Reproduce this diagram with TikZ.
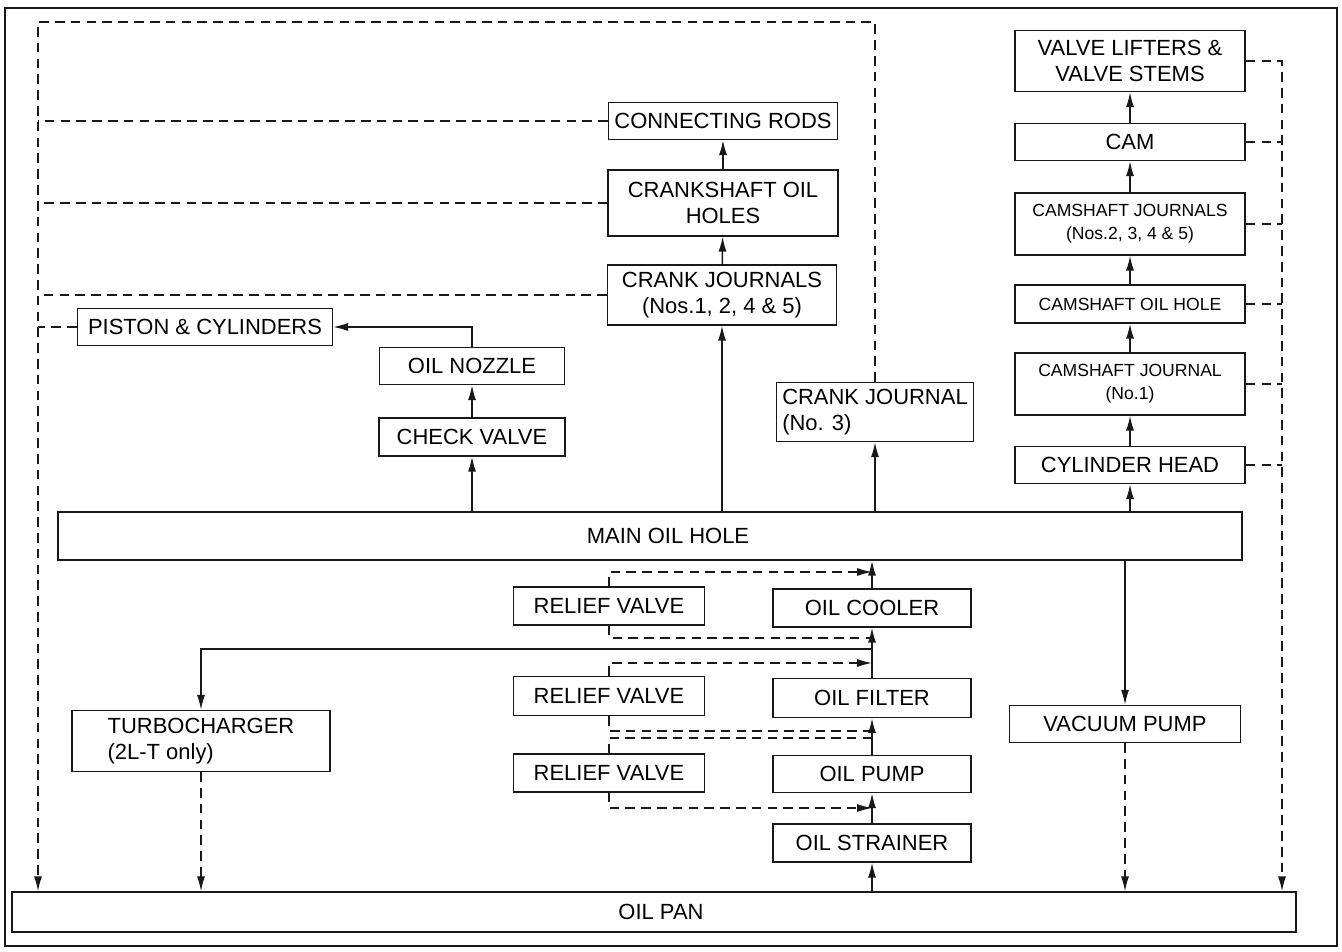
\documentclass[tikz,border=0pt]{standalone}
\usepackage{fontspec}
\setmainfont{Liberation Sans}
\usepackage{tikz}
\usetikzlibrary{arrows.meta}
\definecolor{ink}{RGB}{25,25,25}

\begin{document}
\begin{tikzpicture}[x=0.02cm, y=-0.02cm, part/.style={draw=ink, line width=0.8pt, inner sep=2pt, align=center, font=\fontsize{12.5}{15}\selectfont}, small/.style={font=\fontsize{10}{13}\selectfont}, arrow/.style={-{Latex[length=8.5pt,width=4.6pt]}, draw=ink, line width=0.85pt}, drain/.style={draw=ink, line width=0.8pt, dash pattern=on 5.5pt off 3.5pt}, drainarrow/.style={drain, -{Latex[length=8.5pt,width=4.6pt]}}]
\useasboundingbox (0,0) rectangle (1342,952);
\draw[ink, line width=1pt] (5,8) rectangle (1337,946);
% crankshaft side
\node[part, minimum width=4.58cm, minimum height=0.74cm] (rods) at (723,121) {CONNECTING RODS};
\node[part, minimum width=4.6cm, minimum height=1.32cm] (cshole) at (723,203) {CRANKSHAFT OIL\\HOLES};
\node[part, minimum width=4.58cm, minimum height=1.2cm] (cjs) at (722,295) {CRANK JOURNALS\\(Nos.1, 2, 4 \& 5)};
\node[part, minimum width=3.94cm, minimum height=1.18cm, align=left] (cj3) at (875,412) {CRANK JOURNAL\\(No. 3)};
\node[part, minimum width=5.1cm, minimum height=0.74cm] (piston) at (205,327) {PISTON \& CYLINDERS};
\node[part, minimum width=3.7cm, minimum height=0.74cm] (nozzle) at (472,366) {OIL NOZZLE};
\node[part, minimum width=3.72cm, minimum height=0.76cm] (check) at (472,437) {CHECK VALVE};
% camshaft side
\node[part, minimum width=4.6cm, minimum height=1.22cm, text depth=0pt] (lifters) at (1130,61) {VALVE LIFTERS \&\\VALVE STEMS};
\node[part, minimum width=4.6cm, minimum height=0.74cm] (cam) at (1130,142) {CAM};
\node[part, small, minimum width=4.6cm, minimum height=1.24cm] (camjs) at (1130,224) {CAMSHAFT JOURNALS\\(Nos.2, 3, 4 \& 5)};
\node[part, small, minimum width=4.6cm, minimum height=0.76cm] (camhole) at (1130,304) {CAMSHAFT OIL HOLE};
\node[part, small, minimum width=4.6cm, minimum height=1.24cm] (camj1) at (1130,384) {CAMSHAFT JOURNAL\\(No.1)};
\node[part, minimum width=4.6cm, minimum height=0.74cm] (head) at (1130,465) {CYLINDER HEAD};
\node[part, minimum width=23.68cm, minimum height=0.96cm] (mainhole) at (650,536) {\hspace*{0.72cm}MAIN OIL HOLE};
% pump and filter line
\node[part, minimum width=3.82cm, minimum height=0.76cm] (rv1) at (609,606) {RELIEF VALVE};
\node[part, minimum width=3.96cm, minimum height=0.76cm] (cooler) at (872,608) {OIL COOLER};
\node[part, minimum width=3.82cm, minimum height=0.78cm] (rv2) at (609,696) {RELIEF VALVE};
\node[part, minimum width=3.96cm, minimum height=0.78cm] (filter) at (872,698) {OIL FILTER};
\node[part, minimum width=3.82cm, minimum height=0.76cm] (rv3) at (609,773) {RELIEF VALVE};
\node[part, minimum width=3.96cm, minimum height=0.74cm] (pump) at (872,774) {OIL PUMP};
\node[part, minimum width=3.96cm, minimum height=0.76cm] (strainer) at (872,843) {OIL STRAINER};
\node[part, minimum width=5.16cm, minimum height=1.22cm, align=left] (turbo) at (201,741) {TURBOCHARGER\\(2L-T only)};
\node[part, minimum width=4.62cm, minimum height=0.74cm] (vacuum) at (1125,724) {VACUUM PUMP};
\node[part, minimum width=25.68cm, minimum height=0.8cm] (pan) at (654,912) {\hspace*{0.28cm}OIL PAN};
\coordinate (tl) at (38,22);
\coordinate (tr) at (1282,61);
\coordinate (j1) at (872,572);
\coordinate (j2) at (872,638);
\coordinate (j3) at (872,649);
\coordinate (j4) at (872,663);
\coordinate (j5) at (872,731);
\coordinate (j6) at (872,738);
\coordinate (j7) at (872,808);
% pressure feed
\draw[arrow] (strainer.south |- pan.north) -- (strainer.south);
\draw[arrow] (strainer) -- (pump);
\draw[arrow] (pump) -- (filter);
\draw[arrow] (filter) -- (cooler);
\draw[arrow] (cooler.north) -- (cooler.north |- mainhole.south);
\draw[arrow] (j3) -| (turbo.north);
\draw[drainarrow] (rv1.north) |- (j1);
\draw[drain] (rv1.south) |- (j2);
\draw[drainarrow] (rv2.north) |- (j4);
\draw[drain] (rv2.south) |- (j5);
\draw[drain] (rv3.north) |- (j6);
\draw[drainarrow] (rv3.south) |- (j7);
\draw[arrow] (check.south |- mainhole.north) -- (check.south);
\draw[arrow] (check) -- (nozzle);
\draw[arrow] (nozzle.north) |- (piston.east);
\draw[arrow] (cjs.south |- mainhole.north) -- (cjs.south);
\draw[arrow] (cjs) -- (cshole);
\draw[arrow] (cshole) -- (rods);
\draw[arrow] (cj3.south |- mainhole.north) -- (cj3.south);
\draw[arrow] (head.south |- mainhole.north) -- (head.south);
\draw[arrow] (head) -- (camj1);
\draw[arrow] (camj1) -- (camhole);
\draw[arrow] (camhole) -- (camjs);
\draw[arrow] (camjs) -- (cam);
\draw[arrow] (cam) -- (lifters);
\draw[arrow] (vacuum.north |- mainhole.south) -- (vacuum.north);
% return to oil pan
\draw[drainarrow] (cj3.north) |- (tl) -- (tl |- pan.north);
\draw[drain] (rods.west) -- (rods.west -| tl);
\draw[drain] (cshole.west) -- (cshole.west -| tl);
\draw[drain] (cjs.west) -- (cjs.west -| tl);
\draw[drain] (piston.west) -- (piston.west -| tl);
\draw[drainarrow] (turbo.south) -- (turbo.south |- pan.north);
\draw[drainarrow] (vacuum.south) -- (vacuum.south |- pan.north);
\draw[drainarrow] (lifters.east) -- (tr) -- (tr |- pan.north);
\draw[drain] (cam.east) -- (cam.east -| tr);
\draw[drain] (camjs.east) -- (camjs.east -| tr);
\draw[drain] (camhole.east) -- (camhole.east -| tr);
\draw[drain] (camj1.east) -- (camj1.east -| tr);
\draw[drain] (head.east) -- (head.east -| tr);
\end{tikzpicture}
\end{document}
